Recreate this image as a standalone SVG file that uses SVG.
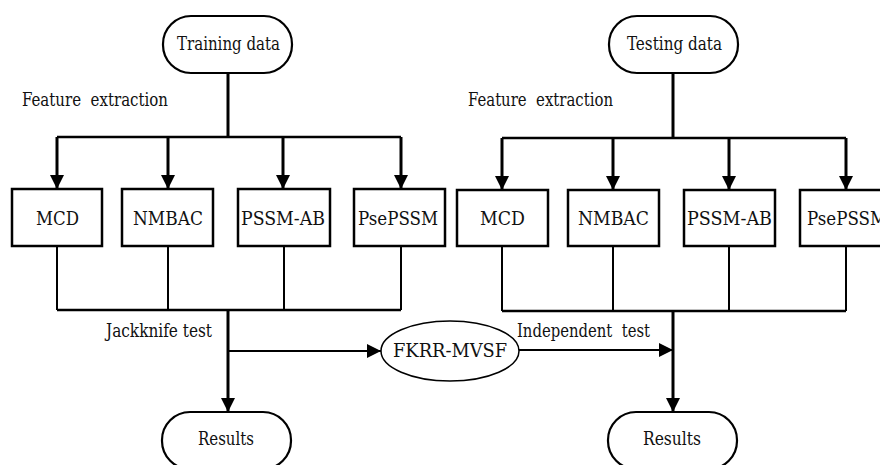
<svg xmlns="http://www.w3.org/2000/svg" width="880" height="465" viewBox="0 0 880 465">
<style>
text{font-family:'DejaVu Serif Condensed','DejaVu Serif',serif;font-size:18px;fill:#111}
.c{text-anchor:middle}
.box{fill:#fff;stroke:#000;stroke-width:2.5}
.term{fill:#fff;stroke:#000;stroke-width:2.2}
.ell{fill:#fff;stroke:#000;stroke-width:1.5}
.th{fill:none;stroke:#000;stroke-width:3}
.md{fill:none;stroke:#000;stroke-width:2.5}
.tn{fill:none;stroke:#000;stroke-width:2}
</style>
<defs>
<marker id="ah" markerUnits="userSpaceOnUse" markerWidth="16" markerHeight="16" viewBox="0 0 16 16" refX="15" refY="8" orient="auto">
<path d="M1,1 L15,8 L1,15 Z" fill="#000"/>
</marker>
</defs>
<g id="connectors">
<path class="th" d="M228,73 V137"/>
<path class="md" d="M57,137 H401"/>
<path class="th" d="M57,137 V189" marker-end="url(#ah)"/>
<path class="th" d="M168,137 V189" marker-end="url(#ah)"/>
<path class="th" d="M283,137 V189" marker-end="url(#ah)"/>
<path class="th" d="M401,137 V189" marker-end="url(#ah)"/>
<path class="tn" d="M57,246 V310 M168,246 V310 M284,246 V310 M401,246 V310"/>
<path class="md" d="M57,310 H401"/>
<path class="th" d="M228,310 V412" marker-end="url(#ah)"/>
<path class="tn" d="M228,351 H381" marker-end="url(#ah)"/>
<path class="th" d="M673,73 V138"/>
<path class="md" d="M502,138 H846"/>
<path class="th" d="M502,138 V190" marker-end="url(#ah)"/>
<path class="th" d="M613,138 V190" marker-end="url(#ah)"/>
<path class="th" d="M729,138 V190" marker-end="url(#ah)"/>
<path class="th" d="M846,138 V190" marker-end="url(#ah)"/>
<path class="tn" d="M502,246 V311 M613,246 V311 M729,246 V311 M846,246 V311"/>
<path class="md" d="M502,311 H846"/>
<path class="th" d="M673,311 V412" marker-end="url(#ah)"/>
<path class="tn" d="M519,350 H673" marker-end="url(#ah)"/>
</g>
<g id="training">
<rect class="term" x="163" y="16" width="129" height="57" rx="28" ry="28"/>
<text class="c" x="228.5" y="50" textLength="103" lengthAdjust="spacingAndGlyphs">Training data</text>
</g>
<g id="testing">
<rect class="term" x="609" y="16" width="129" height="57" rx="28" ry="28"/>
<text class="c" x="674.5" y="50" textLength="95" lengthAdjust="spacingAndGlyphs">Testing data</text>
</g>
<g id="fe-left"><text x="22" y="106" xml:space="preserve" textLength="146" lengthAdjust="spacingAndGlyphs">Feature  extraction</text></g>
<g id="fe-right"><text x="468" y="106" xml:space="preserve" textLength="145" lengthAdjust="spacingAndGlyphs">Feature  extraction</text></g>
<g id="mcd-l"><rect class="box" x="12" y="189" width="90" height="57"/><text class="c" x="57.5" y="225" textLength="43" lengthAdjust="spacingAndGlyphs">MCD</text></g>
<g id="nmbac-l"><rect class="box" x="122" y="189" width="91" height="57"/><text class="c" x="168" y="225" textLength="70" lengthAdjust="spacingAndGlyphs">NMBAC</text></g>
<g id="pssmab-l"><rect class="box" x="238" y="189" width="92" height="57"/><text class="c" x="283" y="225" textLength="84" lengthAdjust="spacingAndGlyphs">PSSM-AB</text></g>
<g id="psepssm-l"><rect class="box" x="354" y="189" width="91" height="57"/><text class="c" x="398" y="225" textLength="80" lengthAdjust="spacingAndGlyphs">PsePSSM</text></g>
<g id="mcd-r"><rect class="box" x="457" y="190" width="91" height="56"/><text class="c" x="502.5" y="225" textLength="45" lengthAdjust="spacingAndGlyphs">MCD</text></g>
<g id="nmbac-r"><rect class="box" x="568" y="190" width="91" height="56"/><text class="c" x="613.5" y="225" textLength="71" lengthAdjust="spacingAndGlyphs">NMBAC</text></g>
<g id="pssmab-r"><rect class="box" x="684" y="190" width="91" height="56"/><text class="c" x="729.5" y="225" textLength="85" lengthAdjust="spacingAndGlyphs">PSSM-AB</text></g>
<g id="psepssm-r"><rect class="box" x="800" y="190" width="91" height="56"/><text x="807" y="225" textLength="80" lengthAdjust="spacingAndGlyphs">PsePSSM</text></g>
<g id="jackknife"><text x="106" y="337" textLength="106" lengthAdjust="spacingAndGlyphs">Jackknife test</text></g>
<g id="independent"><text x="517" y="337" xml:space="preserve" textLength="133" lengthAdjust="spacingAndGlyphs">Independent  test</text></g>
<g id="fkrr">
<ellipse class="ell" cx="450" cy="351" rx="69" ry="30"/>
<text class="c" x="450" y="357" textLength="114" lengthAdjust="spacingAndGlyphs">FKRR-MVSF</text>
</g>
<g id="results-l">
<rect class="term" x="162" y="412" width="129" height="57" rx="28" ry="28"/>
<text class="c" x="226" y="445" textLength="56" lengthAdjust="spacingAndGlyphs">Results</text>
</g>
<g id="results-r">
<rect class="term" x="608" y="412" width="129" height="57" rx="28" ry="28"/>
<text class="c" x="672" y="445" textLength="58" lengthAdjust="spacingAndGlyphs">Results</text>
</g>
</svg>
